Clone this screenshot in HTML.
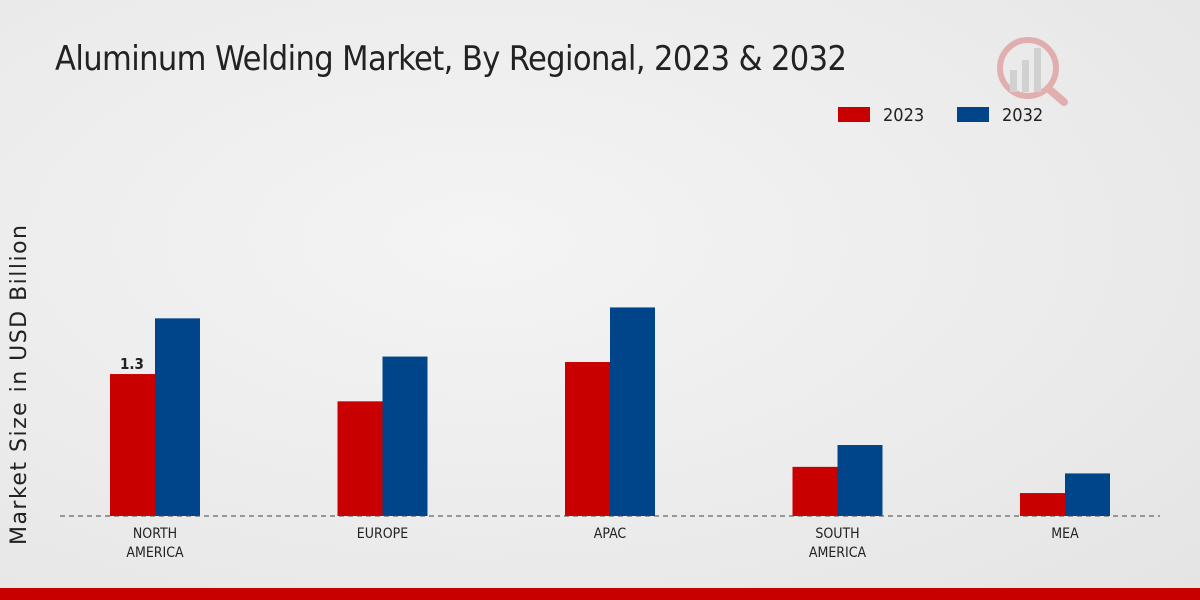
<!DOCTYPE html>
<html><head><meta charset="utf-8"><style>
body{margin:0;width:1200px;height:600px;overflow:hidden;font-family:"Liberation Sans","DejaVu Sans",sans-serif}
#bg{position:absolute;left:0;top:0;width:1200px;height:600px;background:radial-gradient(ellipse at 40% 40%,#f4f4f4 0%,#ebebeb 60%,#e4e4e4 100%)}
</style></head><body>
<div id="bg"></div>
<svg id="c" width="1200" height="600" style="position:absolute;left:0;top:0">
<text x="55" y="70" font-size="34" fill="#222" font-family="DejaVu Sans Condensed, Liberation Sans Narrow, Liberation Sans, sans-serif" textLength="792">Aluminum Welding Market, By Regional, 2023 &amp; 2032</text>
<g font-family="DejaVu Sans Condensed, Liberation Sans, sans-serif">
<rect x="838" y="107" width="32" height="15" fill="#c80000"/>
<text x="883" y="121" font-size="18" fill="#222">2023</text>
<rect x="957" y="107" width="32" height="15" fill="#004589"/>
<text x="1002" y="121" font-size="18" fill="#222">2032</text>
</g>
<text transform="translate(26,385) rotate(-90)" font-size="22" fill="#222" text-anchor="middle" font-family="DejaVu Sans, sans-serif" textLength="320">Market Size in USD Billion</text>
<g opacity="0.25">
<circle cx="1028" cy="68" r="28" fill="none" stroke="#c80000" stroke-width="6"/>
<line x1="1050" y1="90" x2="1064" y2="102" stroke="#c80000" stroke-width="8" stroke-linecap="round"/>
<rect x="1010" y="70" width="7" height="22" fill="#888"/><rect x="1022" y="60" width="7" height="32" fill="#888"/><rect x="1034" y="48" width="7" height="44" fill="#888"/>
</g>
<g id="bars" font-family="DejaVu Sans Condensed, Liberation Sans, sans-serif"></g>
<line x1="60" y1="516" x2="1160" y2="516" stroke="#444" stroke-width="1" stroke-dasharray="5,4"/>
<rect x="0" y="588" width="1200" height="12" fill="#c80000"/>
</svg>
<script>
const categories=[["NORTH","AMERICA"],["EUROPE"],["APAC"],["SOUTH","AMERICA"],["MEA"]];
const values2023=[1.3,1.05,1.41,0.45,0.21];
const values2032=[1.81,1.46,1.91,0.65,0.39];
const labels2023=["1.3",null,null,null,null];
const base=516,scale=109.2,x0=155,step=227.5,bw=45;
const y=v=>base-v*scale, cx=i=>x0+i*step;
const g=document.getElementById('bars'),NS="http://www.w3.org/2000/svg";
function mk(t,a){const e=document.createElementNS(NS,t);for(const k in a)e.setAttribute(k,a[k]);g.appendChild(e);return e;}
categories.forEach((c,i)=>{
  let r=mk('rect',{x:cx(i)-bw,y:y(values2023[i]),width:bw,height:values2023[i]*scale,fill:'#c80000'});
  
  
  let b=mk('rect',{x:cx(i),y:y(values2032[i]),width:bw,height:values2032[i]*scale,fill:'#004589'});
  
  
  if(labels2023[i]){let t=mk('text',{x:cx(i)-bw+10,y:y(values2023[i])-5,'font-size':15,'font-weight':'bold',fill:'#222'});t.textContent=labels2023[i];
    
    }
  c.forEach((line,j)=>{let t=mk('text',{x:cx(i),y:538+j*19,'font-size':14,fill:'#222','text-anchor':'middle'});t.textContent=line;
    
    });
});
</script>
</body></html>
